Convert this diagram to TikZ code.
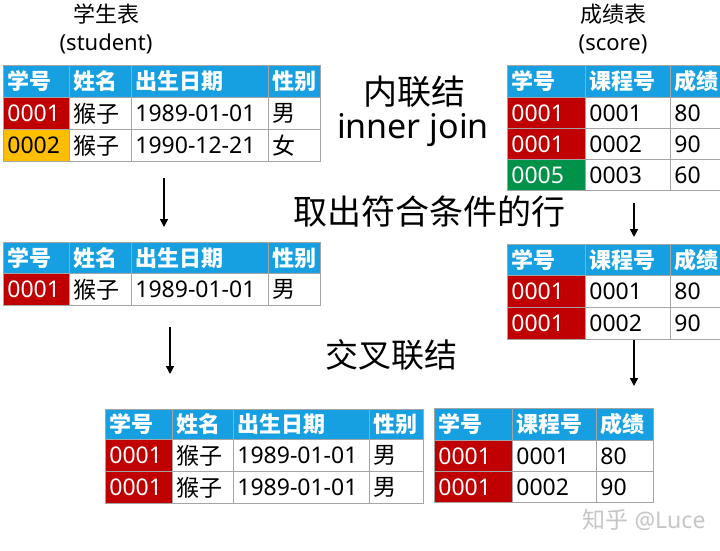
\documentclass[tikz,border=0pt]{standalone}
\usepackage{fontspec}
\setmainfont{Noto Sans}
\newfontfamily\cjk{Noto Sans CJK SC}
\usetikzlibrary{arrows.meta, positioning}
\definecolor{hdblue}{RGB}{22,160,226}
\definecolor{idred}{RGB}{192,0,0}
\definecolor{idorange}{RGB}{255,190,0}
\definecolor{idgreen}{RGB}{0,146,72}
\definecolor{gridgray}{RGB}{165,165,165}

\begin{document}
\begin{tikzpicture}[x=1pt, y=-1pt,
  cell/.style={draw=gridgray, line width=0.8pt, anchor=north west, inner xsep=4pt, inner ysep=0pt,
    align=left, minimum height=32pt, font=\fontsize{23}{26}\selectfont},
  hd/.style={cell, fill=hdblue, text=white, font=\fontsize{22}{26}\selectfont\cjk\bfseries},
  title/.style={align=center, font=\fontsize{22}{28}\selectfont},
  big/.style={font=\fontsize{34}{38}\selectfont},
  arr/.style={line width=1.6pt, -{Triangle[width=8pt, length=8pt]}}
]
  \useasboundingbox (0,0) rectangle (720,550);
  \fill[white] (0,0) rectangle (720,550);

  % titles
  \node[title] (t-st) at (106,29) {{\cjk 学生表}\\(student)};
  \node[title] (t-sc) at (613,29) {{\cjk 成绩表}\\(score)};

  % student table
  \foreach \x/\w/\t [count=\i, evaluate=\w as \tw using \w-8] in {3/66/学号, 69/62/姓名, 131/137/出生日期, 268/52/性别}
    \node[hd, text width=\tw pt] (st-h\i) at (\x,65) {\t};
  \foreach \y/\c/\tc/\id/\d/\s [count=\r] in {97/idred/white/0001/1989-01-01/男, 129/idorange/black/0002/1990-12-21/女} {
    \node[cell, fill=\c, text=\tc, text width=58pt] (st-\r-1) at (3,\y) {\id};
    \node[cell, text width=54pt] (st-\r-2) at (69,\y) {\cjk 猴子};
    \node[cell, text width=129pt] (st-\r-3) at (131,\y) {\d};
    \node[cell, text width=44pt] (st-\r-4) at (268,\y) {\cjk \s};
  }

  % score table
  \foreach \x/\w/\t [count=\i, evaluate=\w as \tw using \w-8] in {507/78/学号, 585/85/课程号, 670/52/成绩}
    \node[hd, text width=\tw pt] (sc-h\i) at (\x,65) {\t};
  \foreach \y/\c/\id/\k/\g [count=\r] in {97/idred/0001/0001/80, 128/idred/0001/0002/90, 159/idgreen/0005/0003/60} {
    \node[cell, fill=\c, text=white, text width=70pt, minimum height=31pt] (sc-\r-1) at (507,\y) {\id};
    \node[cell, text width=77pt, minimum height=31pt] (sc-\r-2) at (585,\y) {\k};
    \node[cell, text width=44pt, minimum height=31pt] (sc-\r-3) at (670,\y) {\g};
  }

  % operation labels
  \node[big] (t-join) at (414,92) {\cjk 内联结};
  \node[big] (t-inner) at (413,130) {inner join};
  \node[big] (t-take) at (429,212) {\cjk 取出符合条件的行};
  \node[big, font=\fontsize{33}{38}\selectfont] (t-cross) at (391,355) {\cjk 交叉联结};

  % arrows
  \coordinate (a1s) at (164,178); \coordinate (a1e) at (164,227);
  \coordinate (a2s) at (634,203); \coordinate (a2e) at (634,237);
  \coordinate (a3s) at (170,327); \coordinate (a3e) at (170,374);
  \coordinate (a4s) at (634,340); \coordinate (a4e) at (634,386);
  \draw[arr] (a1s) -- (a1e);
  \draw[arr] (a2s) -- (a2e);
  \draw[arr] (a3s) -- (a3e);
  \draw[arr] (a4s) -- (a4e);

  % filtered student
  \foreach \x/\w/\t [count=\i, evaluate=\w as \tw using \w-8] in {3/66/学号, 69/62/姓名, 131/137/出生日期, 268/52/性别}
    \node[hd, text width=\tw pt, minimum height=31pt] (fs-h\i) at (\x,242) {\t};
  \node[cell, fill=idred, text=white, text width=58pt] (fs-1-1) at (3,273) {0001};
  \node[cell, text width=54pt] (fs-1-2) at (69,273) {\cjk 猴子};
  \node[cell, text width=129pt] (fs-1-3) at (131,273) {1989-01-01};
  \node[cell, text width=44pt] (fs-1-4) at (268,273) {\cjk 男};

  % filtered score
  \foreach \x/\w/\t [count=\i, evaluate=\w as \tw using \w-8] in {507/78/学号, 585/85/课程号, 670/52/成绩}
    \node[hd, text width=\tw pt, minimum height=31pt] (fc-h\i) at (\x,244) {\t};
  \foreach \y/\k/\g [count=\r] in {275/0001/80, 307/0002/90} {
    \node[cell, fill=idred, text=white, text width=70pt] (fc-\r-1) at (507,\y) {0001};
    \node[cell, text width=77pt] (fc-\r-2) at (585,\y) {\k};
    \node[cell, text width=44pt] (fc-\r-3) at (670,\y) {\g};
  }

  % result: student side
  \foreach \x/\w/\t [count=\i, evaluate=\w as \tw using \w-8] in {105/67/学号, 172/61/姓名, 233/136/出生日期, 369/54/性别}
    \node[hd, text width=\tw pt, minimum height=30pt] (rs-h\i) at (\x,409) {\t};
  \foreach \y [count=\r] in {439, 471} {
    \node[cell, fill=idred, text=white, text width=59pt] (rs-\r-1) at (105,\y) {0001};
    \node[cell, text width=53pt] (rs-\r-2) at (172,\y) {\cjk 猴子};
    \node[cell, text width=128pt] (rs-\r-3) at (233,\y) {1989-01-01};
    \node[cell, text width=46pt] (rs-\r-4) at (369,\y) {\cjk 男};
  }

  % result: score side
  \foreach \x/\w/\t [count=\i, evaluate=\w as \tw using \w-8] in {434/78/学号, 512/84/课程号, 596/57/成绩}
    \node[hd, text width=\tw pt] (rc-h\i) at (\x,408) {\t};
  \foreach \y/\k/\g [count=\r] in {440/0001/80, 471/0002/90} {
    \node[cell, fill=idred, text=white, text width=70pt, minimum height=31pt] (rc-\r-1) at (434,\y) {0001};
    \node[cell, text width=76pt, minimum height=31pt] (rc-\r-2) at (512,\y) {\k};
    \node[cell, text width=49pt, minimum height=31pt] (rc-\r-3) at (596,\y) {\g};
  }

  % watermark
  \node[text=gray!45, font=\fontsize{23}{26}\selectfont] (wm) at (644,520) {{\cjk 知乎} @Luce};
\end{tikzpicture}
\end{document}
